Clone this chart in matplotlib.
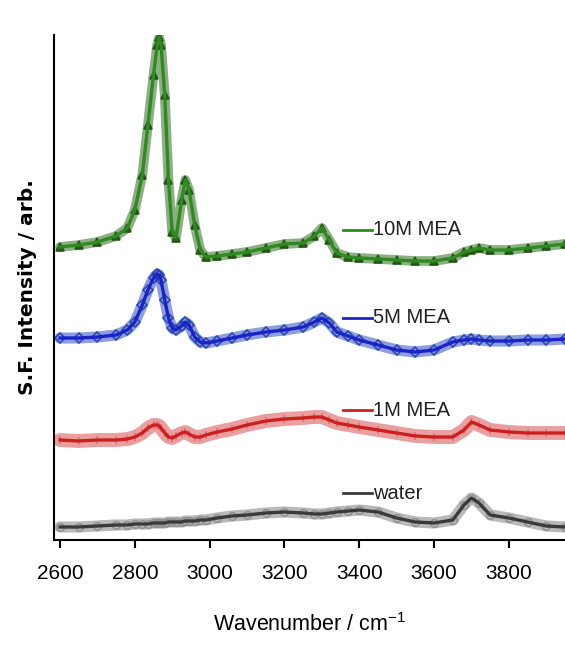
import matplotlib
matplotlib.use("Agg")
import matplotlib.pyplot as plt

# wavenumber grid shared by all spectra (cm-1)
wavenumber = [2600, 2650, 2700, 2750, 2780, 2800, 2820, 2835, 2850, 2860, 2865, 2870,
              2880, 2890, 2900, 2910, 2925, 2935, 2945, 2960, 2975, 2990, 3020, 3060,
              3100, 3150, 3200, 3250, 3280, 3300, 3320, 3340, 3370, 3400, 3450, 3500,
              3550, 3600, 3650, 3680, 3700, 3720, 3750, 3800, 3850, 3900, 3950]

# SF intensity (arb., already offset for stacking)
mea10 = [293, 295, 298, 304, 312, 330, 365, 415, 465, 495, 503, 495,
         445, 360, 308, 302, 340, 360, 350, 315, 290, 283, 284, 286,
         288, 292, 296, 297, 304, 312, 300, 287, 283, 282, 281, 280,
         279, 279, 282, 288, 290, 292, 290, 290, 292, 294, 296]
mea5 = [202, 202, 203, 205, 210, 218, 235, 250, 262, 266, 265, 260,
        240, 222, 212, 210, 214, 218, 215, 203, 198, 197, 199, 202,
        205, 208, 210, 213, 218, 222, 217, 208, 204, 200, 195, 190,
        188, 190, 198, 200, 201, 200, 199, 199, 200, 200, 201]
mea1 = [100, 99, 100, 100, 101, 103, 107, 112, 115, 115, 114, 112,
        107, 103, 102, 104, 107, 108, 106, 103, 103, 105, 108, 111,
        115, 119, 121, 122, 123, 123, 120, 117, 115, 113, 110, 107,
        104, 103, 103, 110, 118, 115, 110, 108, 107, 107, 107]
water = [13, 13, 14, 15, 15, 16, 16, 16, 17, 17, 17, 17,
         17, 18, 18, 18, 18, 19, 19, 19, 20, 20, 22, 24,
         25, 27, 28, 27, 26, 26, 27, 28, 29, 30, 28, 22,
         18, 17, 20, 35, 42, 37, 25, 22, 18, 14, 13]

labels = ["10M MEA", "5M MEA", "1M MEA", "water"]
series = [mea10, mea5, mea1, water]
line_colors = ["#2f8a1f", "#1a22c8", "#cc2020", "#3a3a3a"]
band_colors = ["#2f6e1e", "#3050c0", "#d85050", "#808080"]
band_widths = [7, 8, 10, 8]
marker_colors = ["#1d5410", "#2040b0", "#e07070", "#909090"]
markers = ["^", "D", "|", "o"]

fig = plt.figure(figsize=(5.65, 6.45), dpi=100)
ax = fig.add_axes([0.0956, 0.1628, 0.9044, 0.7829])

for y, lc, bc, bw, mc, mk in zip(series, line_colors, band_colors, band_widths,
                                 marker_colors, markers):
    ax.plot(wavenumber, y, color=bc, lw=bw, alpha=0.55, solid_capstyle="round")
    ax.plot(wavenumber, y, ls="none", marker=mk, ms=5.5, color=mc,
            mfc=mc if mk == "^" else "none", mew=1.2, alpha=0.9)
    ax.plot(wavenumber, y, color=lc, lw=2.4)

font = ["Liberation Sans", "DejaVu Sans"]

# labels with a short line in front, placed next to each trace
label_y = [0.614, 0.440, 0.257, 0.093]
for lab, ly, lc in zip(labels, label_y, line_colors):
    ax.plot([0.566, 0.622], [ly, ly], color=lc, lw=2, transform=ax.transAxes)
    ax.text(0.624, ly, lab, transform=ax.transAxes, va="center", ha="left",
            fontsize=14.5, color="#222222", family=font)

ax.set_xlim(2584, 3950)
ax.set_ylim(0, 505)
ax.set_xticks([2600, 2800, 3000, 3200, 3400, 3600, 3800])
ax.set_yticks([])
ax.tick_params(axis="x", direction="out", length=6, width=1.5, pad=11,
               labelsize=15)
for lab in ax.get_xticklabels():
    lab.set_family(font)
ax.spines["top"].set_visible(False)
ax.spines["right"].set_visible(False)
ax.spines["left"].set_linewidth(1.5)
ax.spines["bottom"].set_linewidth(1.5)

ax.set_xlabel("Wavenumber / cm$^{\\mathregular{-1}}$", fontsize=15.5, labelpad=22,
              family=font)
ax.set_ylabel("S.F. Intensity / arb.", fontsize=14.5, fontweight="bold", labelpad=12)

fig.savefig("out.png", dpi=100)
